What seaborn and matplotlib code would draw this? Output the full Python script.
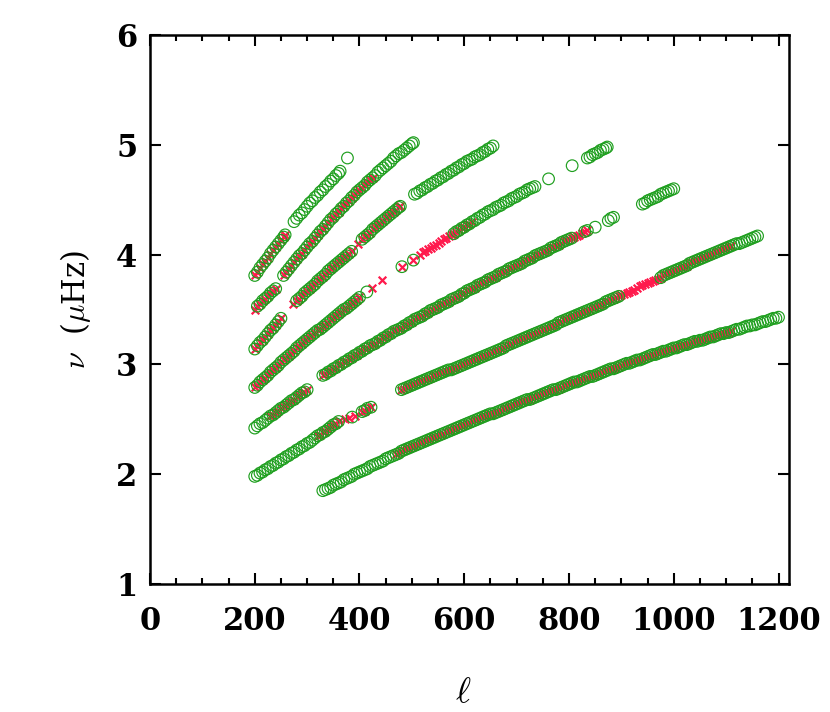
import matplotlib
matplotlib.use("Agg")
import matplotlib.pyplot as plt
import pandas as pd
import seaborn as sns
from matplotlib.ticker import MultipleLocator

# mark: 0 = só círculo, 1 = círculo + cruz, 2 = só cruz

# crista mais baixa
a_ell = [330, 335, 340, 345, 350, 355, 360, 365, 370, 375,
         380, 385, 390, 395, 400, 405, 410, 415, 420, 425,
         430, 435, 440, 445, 450, 455, 460, 465, 470, 475,
         480, 485, 490, 495, 500, 505, 510, 515, 520, 525,
         530, 535, 540, 545, 550, 555, 560, 565, 570, 575,
         580, 585, 590, 595, 600, 605, 610, 615, 620, 625,
         630, 635, 640, 645, 650, 655, 660, 665, 670, 675,
         680, 685, 690, 695, 700, 705, 710, 715, 720, 725,
         730, 735, 740, 745, 750, 755, 760, 765, 770, 775,
         780, 785, 790, 795, 800, 805, 810, 815, 820, 825,
         830, 835, 840, 845, 850, 855, 860, 865, 870, 875,
         880, 885, 890, 895, 900, 905, 910, 915, 920, 925,
         930, 935, 940, 945, 950, 955, 960, 965, 970, 975,
         980, 985, 990, 995, 1000, 1005, 1010, 1015, 1020, 1025,
         1030, 1035, 1040, 1045, 1050, 1055, 1060, 1065, 1070, 1075,
         1080, 1085, 1090, 1095, 1100, 1105, 1110, 1115, 1120, 1125,
         1130, 1135, 1140, 1145, 1150, 1155, 1160, 1165, 1170, 1175,
         1180, 1185, 1190, 1195, 1200]
a_nu = [1.85, 1.86, 1.87, 1.88, 1.90, 1.91, 1.92, 1.93, 1.95, 1.96,
        1.97, 1.98, 2.00, 2.01, 2.02, 2.03, 2.04, 2.05, 2.07, 2.08,
        2.09, 2.10, 2.11, 2.12, 2.14, 2.15, 2.16, 2.17, 2.18, 2.19,
        2.21, 2.22, 2.23, 2.24, 2.25, 2.26, 2.27, 2.28, 2.29, 2.30,
        2.31, 2.32, 2.33, 2.34, 2.35, 2.36, 2.37, 2.38, 2.39, 2.40,
        2.41, 2.42, 2.43, 2.44, 2.45, 2.46, 2.47, 2.48, 2.49, 2.50,
        2.51, 2.52, 2.53, 2.54, 2.55, 2.55, 2.56, 2.57, 2.58, 2.59,
        2.60, 2.61, 2.62, 2.63, 2.64, 2.65, 2.66, 2.67, 2.68, 2.68,
        2.69, 2.70, 2.71, 2.72, 2.73, 2.74, 2.75, 2.76, 2.77, 2.77,
        2.78, 2.79, 2.80, 2.81, 2.82, 2.83, 2.84, 2.84, 2.85, 2.86,
        2.87, 2.88, 2.89, 2.89, 2.90, 2.91, 2.92, 2.93, 2.94, 2.95,
        2.96, 2.96, 2.97, 2.98, 2.99, 3.00, 3.01, 3.01, 3.02, 3.03,
        3.04, 3.04, 3.05, 3.06, 3.07, 3.08, 3.09, 3.09, 3.10, 3.11,
        3.12, 3.12, 3.13, 3.14, 3.15, 3.15, 3.16, 3.17, 3.18, 3.18,
        3.19, 3.20, 3.21, 3.21, 3.22, 3.22, 3.23, 3.24, 3.25, 3.25,
        3.26, 3.27, 3.28, 3.28, 3.29, 3.29, 3.30, 3.31, 3.32, 3.32,
        3.33, 3.34, 3.35, 3.35, 3.36, 3.36, 3.37, 3.38, 3.39, 3.39,
        3.40, 3.41, 3.42, 3.42, 3.43]
a_mark = [0] * 28 + [1] * 129 + [0] * 18

# segunda crista longa
b_ell = [480, 485, 490, 495, 500, 505, 510, 515, 520, 525,
         530, 535, 540, 545, 550, 555, 560, 565, 570, 575,
         580, 585, 590, 595, 600, 605, 610, 615, 620, 625,
         630, 635, 640, 645, 650, 655, 660, 665, 670, 675,
         680, 685, 690, 695, 700, 705, 710, 715, 720, 725,
         730, 735, 740, 745, 750, 755, 760, 765, 770, 775,
         780, 785, 790, 795, 800, 805, 810, 815, 820, 825,
         830, 835, 840, 845, 850, 855, 860, 865, 870, 875,
         880, 885, 890, 895, 900, 905, 910, 915, 920, 925,
         930, 935, 940, 945, 950, 955, 960, 965, 970, 975,
         980, 985, 990, 995, 1000, 1005, 1010, 1015, 1020, 1025,
         1030, 1035, 1040, 1045, 1050, 1055, 1060, 1065, 1070, 1075,
         1080, 1085, 1090, 1095, 1100, 1105, 1110, 1115, 1120, 1125,
         1130, 1135, 1140, 1145, 1150, 1155, 1160]
b_nu = [2.77, 2.78, 2.79, 2.80, 2.81, 2.82, 2.83, 2.84, 2.85, 2.86,
        2.87, 2.88, 2.89, 2.90, 2.91, 2.92, 2.93, 2.94, 2.95, 2.95,
        2.96, 2.97, 2.98, 2.99, 3.00, 3.01, 3.02, 3.03, 3.04, 3.05,
        3.06, 3.07, 3.08, 3.09, 3.10, 3.11, 3.12, 3.13, 3.14, 3.15,
        3.17, 3.18, 3.19, 3.20, 3.21, 3.22, 3.23, 3.24, 3.25, 3.26,
        3.27, 3.28, 3.29, 3.30, 3.31, 3.32, 3.33, 3.34, 3.35, 3.36,
        3.38, 3.39, 3.40, 3.41, 3.42, 3.43, 3.44, 3.45, 3.46, 3.47,
        3.48, 3.49, 3.50, 3.51, 3.52, 3.53, 3.54, 3.55, 3.57, 3.58,
        3.59, 3.60, 3.61, 3.62, 3.63, 3.64, 3.65, 3.66, 3.67, 3.68,
        3.70, 3.71, 3.72, 3.73, 3.74, 3.75, 3.76, 3.77, 3.78, 3.79,
        3.81, 3.82, 3.83, 3.84, 3.85, 3.86, 3.87, 3.88, 3.89, 3.90,
        3.92, 3.93, 3.94, 3.95, 3.96, 3.97, 3.98, 3.99, 4.00, 4.01,
        4.02, 4.03, 4.04, 4.05, 4.06, 4.07, 4.08, 4.09, 4.10, 4.10,
        4.11, 4.12, 4.13, 4.14, 4.15, 4.16, 4.17]
b_mark = [1] * 84 + [2] * 15 + [1] * 28 + [0] * 10

# crista que começa em l=200, nu=2.8
c_ell = [200, 205, 210, 215, 220, 225, 230, 235, 240, 245,
         250, 255, 260, 265, 270, 275, 280, 285, 290, 295,
         300, 305, 310, 315, 320, 325, 330, 335, 340, 345,
         350, 355, 360, 365, 370, 375, 380, 385, 390, 395, 400,
         414, 424, 443, 481, 503,
         516, 521, 526, 531, 536, 541, 546, 551, 556, 561, 566, 571, 576,
         580, 585, 590, 595, 600, 605, 610, 615,
         620, 625, 630, 635, 640, 645, 650, 655, 660, 665, 670, 675,
         680, 685, 690, 695, 700, 705, 710, 715, 720, 725, 730, 735,
         761, 806, 835, 840, 845, 850, 855, 860, 865, 870, 873]
c_nu = [2.79, 2.81, 2.84, 2.86, 2.88, 2.90, 2.93, 2.95, 2.97, 2.99,
        3.02, 3.04, 3.06, 3.08, 3.10, 3.12, 3.15, 3.17, 3.19, 3.21,
        3.23, 3.25, 3.27, 3.29, 3.31, 3.32, 3.34, 3.36, 3.38, 3.40,
        3.42, 3.44, 3.46, 3.48, 3.50, 3.51, 3.53, 3.55, 3.57, 3.59, 3.61,
        3.66, 3.70, 3.77, 3.89, 3.95,
        4.00, 4.02, 4.03, 4.05, 4.06, 4.08, 4.09, 4.11, 4.12, 4.14, 4.15, 4.17, 4.18,
        4.19, 4.21, 4.22, 4.24, 4.25, 4.27, 4.28, 4.30,
        4.31, 4.33, 4.34, 4.36, 4.37, 4.39, 4.40, 4.41, 4.43, 4.44, 4.45, 4.47,
        4.48, 4.49, 4.51, 4.52, 4.53, 4.55, 4.56, 4.57, 4.59, 4.60, 4.61, 4.62,
        4.69, 4.81, 4.88, 4.89, 4.91, 4.92, 4.93, 4.95, 4.96, 4.97, 4.98]
c_mark = [1] * 41 + [0, 2, 2, 1, 1] + [2] * 13 + [1] * 8 + [0] * 24 + [0] * 11

# crista que começa em l=330, nu=2.9
d_ell = [330, 335, 340, 345, 350, 355, 360, 365, 370, 375,
         380, 385, 390, 395, 400, 405, 410, 415, 420, 425,
         430, 435, 440, 445, 450, 455, 460, 465, 470, 475,
         480, 485, 490, 495, 500, 505, 510, 515, 520, 525,
         530, 535, 540, 545, 550, 555, 560, 565, 570, 575,
         580, 585, 590, 595, 600, 605, 610, 615, 620, 625,
         630, 635, 640, 645, 650, 655, 660, 665, 670, 675,
         680, 685, 690, 695, 700, 705, 710, 715, 720, 725,
         730, 735, 740, 745, 750, 755, 760, 765, 770, 775,
         780, 785, 790, 795, 800,
         805, 810, 815, 820, 825, 830, 835, 850, 875, 880, 885,
         940, 945, 950, 955, 960, 965, 970, 975, 980, 985, 990, 995, 1000]
d_nu = [2.90, 2.91, 2.93, 2.94, 2.96, 2.97, 2.99, 3.00, 3.02, 3.03,
        3.05, 3.06, 3.08, 3.09, 3.11, 3.12, 3.14, 3.15, 3.17, 3.18,
        3.19, 3.21, 3.22, 3.24, 3.25, 3.27, 3.28, 3.30, 3.31, 3.32,
        3.33, 3.35, 3.36, 3.38, 3.39, 3.41, 3.42, 3.43, 3.44, 3.46,
        3.47, 3.49, 3.50, 3.51, 3.52, 3.54, 3.55, 3.56, 3.57, 3.59,
        3.60, 3.61, 3.62, 3.64, 3.65, 3.67, 3.68, 3.69, 3.70, 3.72,
        3.73, 3.74, 3.75, 3.77, 3.78, 3.79, 3.80, 3.82, 3.83, 3.84,
        3.85, 3.87, 3.88, 3.89, 3.90, 3.91, 3.92, 3.94, 3.95, 3.96,
        3.97, 3.99, 4.00, 4.01, 4.02, 4.03, 4.04, 4.06, 4.07, 4.08,
        4.09, 4.11, 4.12, 4.13, 4.14,
        4.15, 4.16, 4.17, 4.18, 4.20, 4.21, 4.22, 4.25, 4.31, 4.33, 4.34,
        4.46, 4.47, 4.49, 4.50, 4.51, 4.52, 4.53, 4.55, 4.56, 4.57, 4.58, 4.59, 4.60]
d_mark = [1] * 95 + [1, 2, 2, 2, 2, 1, 1, 0, 0, 0, 0] + [0] * 13

# cristas curtas em l baixo
e_ell = [200, 205, 210, 215, 220, 225, 230, 235, 240, 245,
         250, 255, 260, 265, 270, 275, 280, 285, 290, 295,
         300, 305, 310, 315, 320, 325, 330, 335, 340, 345,
         350, 355, 360,
         372, 380, 386, 392, 405, 410, 415, 422]
e_nu = [1.98, 1.99, 2.01, 2.02, 2.04, 2.05, 2.07, 2.08, 2.10, 2.11,
        2.13, 2.14, 2.16, 2.17, 2.19, 2.20, 2.22, 2.23, 2.25, 2.26,
        2.28, 2.29, 2.31, 2.33, 2.35, 2.36, 2.38, 2.39, 2.41, 2.43,
        2.45, 2.46, 2.48,
        2.50, 2.51, 2.52, 2.53, 2.57, 2.58, 2.60, 2.61]
e_mark = [0] * 24 + [1] * 9 + [2, 2, 0, 2, 1, 1, 1, 1]

f_ell = [200, 205, 210, 215, 220, 225, 230, 235, 240, 245,
         250, 255, 260, 265, 270, 275, 280, 285, 290, 295, 300]
f_nu = [2.42, 2.44, 2.46, 2.47, 2.49, 2.51, 2.53, 2.54, 2.56, 2.58,
        2.60, 2.61, 2.63, 2.65, 2.67, 2.68, 2.70, 2.72, 2.74, 2.75, 2.77]
f_mark = [0] * 6 + [1] * 15

g_ell = [200, 205, 210, 215, 220, 225, 230, 235, 240, 245, 250]
g_nu = [3.14, 3.17, 3.20, 3.22, 3.25, 3.28, 3.31, 3.33, 3.36, 3.39, 3.42]
g_mark = [1] * 11

h_ell = [200, 205, 210, 215, 220, 225, 230, 235, 240]
h_nu = [3.50, 3.53, 3.55, 3.58, 3.60, 3.62, 3.65, 3.67, 3.69]
h_mark = [2] + [1] * 8

# crista de l=274, nu=3.55 até nu=5
i_ell = [274,
         280, 285, 290, 295, 300, 305, 310, 315, 320, 325,
         330, 335, 340, 345, 350, 355, 360, 365, 370, 375, 380, 385,
         398,
         405, 410, 415, 420, 425, 430, 435, 440, 445, 450,
         455, 460, 465, 470, 475, 478,
         505, 510, 515, 520, 525, 530, 535, 540, 545, 550,
         555, 560, 565, 570, 575, 580, 585, 590, 595, 600,
         605, 610, 615, 620, 625, 630, 635, 640, 645, 650, 655]
i_nu = [3.55,
        3.58, 3.60, 3.62, 3.65, 3.67, 3.69, 3.71, 3.73, 3.76, 3.78,
        3.80, 3.82, 3.85, 3.87, 3.89, 3.91, 3.93, 3.95, 3.97, 3.99, 4.01, 4.03,
        4.10,
        4.14, 4.16, 4.18, 4.20, 4.23, 4.25, 4.27, 4.29, 4.31, 4.33,
        4.35, 4.37, 4.39, 4.41, 4.43, 4.44,
        4.55, 4.56, 4.58, 4.59, 4.61, 4.62, 4.64, 4.65, 4.67, 4.68,
        4.70, 4.71, 4.73, 4.74, 4.76, 4.77, 4.79, 4.80, 4.82, 4.83,
        4.85, 4.86, 4.87, 4.89, 4.90, 4.91, 4.93, 4.94, 4.96, 4.97, 4.99]
i_mark = [2] + [1] * 22 + [2] + [1] * 16 + [0] * 31

# cristas íngremes no canto superior esquerdo
j_ell = [200, 205, 210, 215, 220, 225, 230, 235, 240, 245, 250, 255, 258,
         275, 280, 285, 290, 295, 300, 305, 310, 315, 320,
         325, 330, 335, 340, 345, 350, 355, 360, 363, 377]
j_nu = [3.81, 3.84, 3.88, 3.91, 3.94, 3.97, 4.01, 4.04, 4.07, 4.10, 4.13, 4.16, 4.18,
        4.30, 4.33, 4.36, 4.38, 4.41, 4.44, 4.47, 4.49, 4.52, 4.54,
        4.57, 4.59, 4.62, 4.64, 4.67, 4.69, 4.72, 4.74, 4.76, 4.88]
j_mark = [1] * 13 + [0] * 20

k_ell = [255, 260, 265, 270, 275, 280, 285, 290, 295, 300,
         305, 310, 315, 320, 325, 330, 335, 340, 345, 350,
         355, 360, 365, 370, 375, 380, 385, 390, 395, 400,
         405, 410, 415, 420, 425,
         430, 435, 440, 445, 450, 455, 460, 465, 470, 475,
         480, 485, 490, 495, 500, 503]
k_nu = [3.81, 3.84, 3.87, 3.90, 3.93, 3.96, 3.99, 4.01, 4.04, 4.07,
        4.10, 4.12, 4.15, 4.18, 4.21, 4.23, 4.26, 4.29, 4.32, 4.34,
        4.37, 4.39, 4.42, 4.44, 4.47, 4.49, 4.52, 4.54, 4.57, 4.59,
        4.61, 4.63, 4.66, 4.68, 4.70,
        4.72, 4.75, 4.77, 4.79, 4.81, 4.83, 4.85, 4.88, 4.90, 4.92,
        4.93, 4.95, 4.97, 4.99, 5.01, 5.02]
k_mark = [1] * 35 + [0] * 16

ridges = {
    "a": (a_ell, a_nu, a_mark), "b": (b_ell, b_nu, b_mark),
    "c": (c_ell, c_nu, c_mark), "d": (d_ell, d_nu, d_mark),
    "e": (e_ell, e_nu, e_mark), "f": (f_ell, f_nu, f_mark),
    "g": (g_ell, g_nu, g_mark), "h": (h_ell, h_nu, h_mark),
    "i": (i_ell, i_nu, i_mark), "j": (j_ell, j_nu, j_mark),
    "k": (k_ell, k_nu, k_mark),
}

partes = []
for nome, (l, v, m) in ridges.items():
    partes.append(pd.DataFrame({"ell": l, "nu": v, "mark": m, "ridge": nome}))
df = pd.concat(partes, ignore_index=True)

sns.set_style("ticks")
plt.rcParams["font.family"] = ["DejaVu Serif"]
plt.rcParams["font.weight"] = "bold"
plt.rcParams["mathtext.fontset"] = "cm"
plt.rcParams["text.color"] = "black"
plt.rcParams["axes.labelcolor"] = "black"
plt.rcParams["xtick.color"] = "black"
plt.rcParams["ytick.color"] = "black"

fig = plt.figure(figsize=(8.3, 7.12), dpi=100)
ax = fig.add_axes([0.1807, 0.1798, 0.7699, 0.771])

# cruzes vermelhas por baixo, círculos verdes por cima
sns.scatterplot(data=df[df["mark"] > 0], x="ell", y="nu", marker="x",
                color="#ff1a4d", s=30, linewidth=1.6, ax=ax, legend=False, zorder=2)
sns.scatterplot(data=df[df["mark"] < 2], x="ell", y="nu", marker="o",
                facecolor="none", edgecolor="#1f9f1f", s=70, linewidth=0.85,
                ax=ax, legend=False, zorder=3)

ax.set_xlim(0, 1220)
ax.set_ylim(1, 6)
ax.xaxis.set_major_locator(MultipleLocator(200))
ax.xaxis.set_minor_locator(MultipleLocator(50))
ax.yaxis.set_major_locator(MultipleLocator(1))

for s in ax.spines.values():
    s.set_linewidth(1.8)
    s.set_color("black")
ax.tick_params(which="both", direction="in", top=True, right=True, width=1.5,
               color="black", labelcolor="black")
ax.tick_params(which="major", length=8)
ax.tick_params(which="minor", length=4.5)
ax.tick_params(axis="x", which="major", labelsize=22, pad=16)
ax.tick_params(axis="y", which="major", labelsize=22, pad=9)

ax.set_xlabel(r"$\ell$", fontsize=26, color="black")
ax.xaxis.set_label_coords(0.49, -0.165)
ax.set_ylabel(r"$\nu$  ($\mu$Hz)", fontsize=22, color="black")
ax.yaxis.label.set_va("center")
ax.yaxis.set_label_coords(-0.117, 0.5)

fig.savefig("out.png", dpi=100, facecolor="white")
